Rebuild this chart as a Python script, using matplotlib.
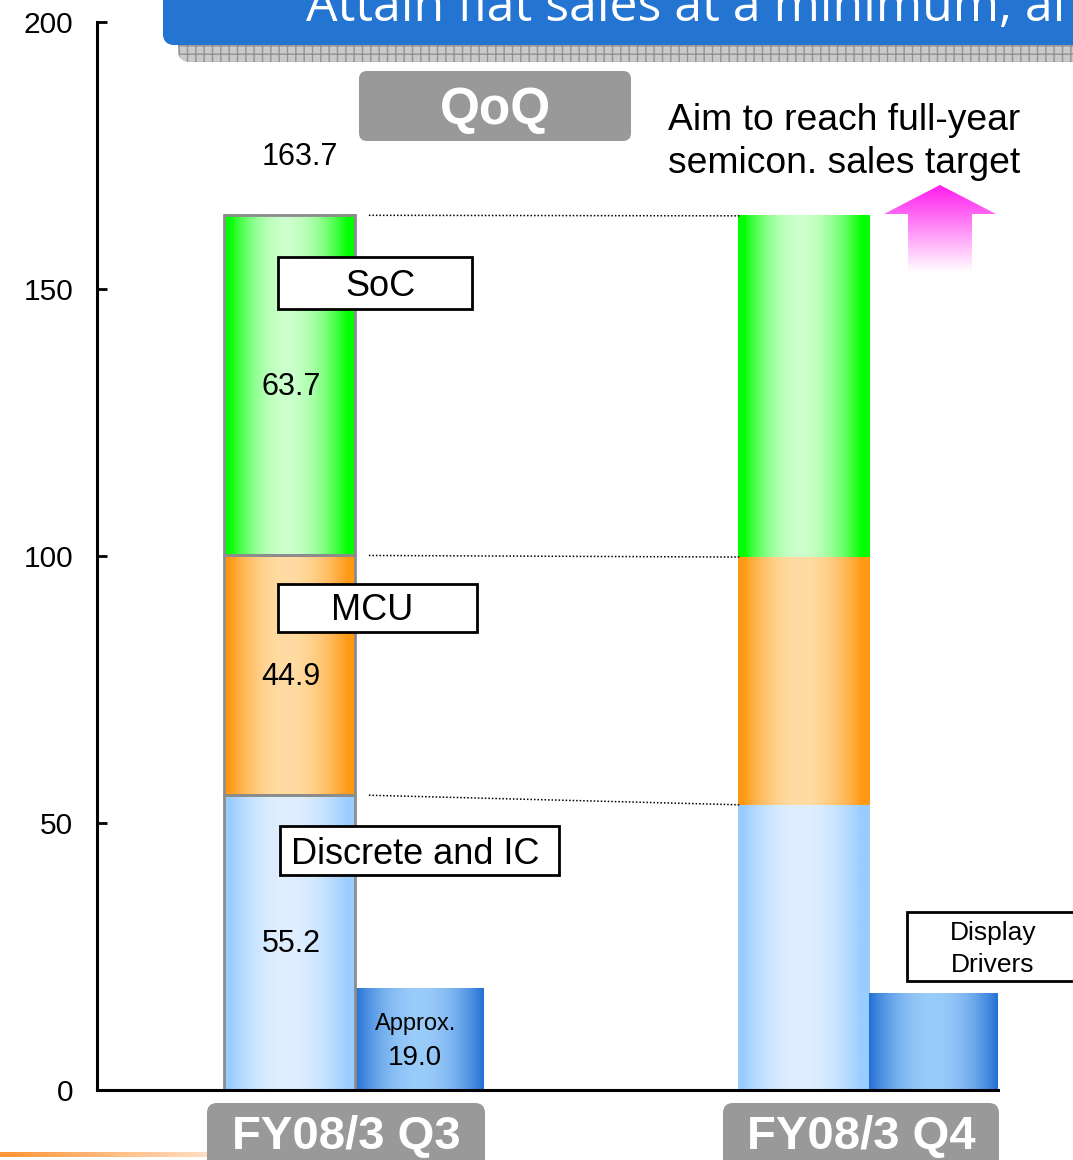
import numpy as np
import matplotlib
matplotlib.use("Agg")
import matplotlib.pyplot as plt
from matplotlib.patches import FancyBboxPatch, Rectangle, Polygon
from matplotlib.colors import to_rgb

plt.rcParams['font.family'] = ['Liberation Sans', 'DejaVu Sans']

# ---- data (billion yen) ----
periods = ["FY08/3 Q3", "FY08/3 Q4"]
segments = ["Discrete and IC", "MCU", "SoC"]
discrete_ic = [55.2, 53.4]
mcu = [44.9, 46.4]
soc = [63.7, 63.9]
display_drivers = [19.0, 18.0]
q3_total = 163.7
yticks = [0, 50, 100, 150, 200]

title_text = "Attain flat sales at a minimum, ai"
target_note = ["Aim to reach full-year", "semicon. sales target"]

W, H = 1073, 1160
fig = plt.figure(figsize=(W / 100, H / 100), dpi=100)
ax = fig.add_axes([97 / W, 70 / H, 901 / W, 1068 / H])

STACK_W = 0.255
DD_W = 0.25


def hgrad(edge, center, c=0.47, n=256, lo=0.04, hi=0.06):
    u = np.linspace(0, 1, n)
    half = np.where(u < c, c - lo, 1 - c - hi)
    w = np.clip(1 - (np.abs(u - c) / half) ** 2, 0, 1)
    e = np.array(to_rgb(edge))
    m = np.array(to_rgb(center))
    rgb = e[None, :] + (m - e)[None, :] * w[:, None]
    return rgb[None, :, :]


def fill_bar(axis, bar, img, z=2):
    x0, w = bar.get_x(), bar.get_width()
    y0, h = bar.get_y(), bar.get_height()
    xl, xr = sorted([x0, x0 + w])
    axis.imshow(img, extent=(xl, xr, y0, y0 + h), aspect='auto',
                interpolation='bilinear', zorder=z)


idx = np.arange(len(periods))
disc = np.array(discrete_ic)
mc = np.array(mcu)
sc = np.array(soc)
dd = np.array(display_drivers)

edges = ['#8c8c8c', 'none']
styles = {
    "Discrete and IC": ('#99ccff', '#e0efff'),
    "MCU": ('#ff9914', '#ffdca4'),
    "SoC": ('#00ff00', '#ccffcc'),
}
bottoms = {"Discrete and IC": np.zeros(2), "MCU": disc, "SoC": disc + mc}
values = {"Discrete and IC": disc, "MCU": mc, "SoC": sc}

for seg in segments:
    bars = ax.bar(idx, values[seg], width=-STACK_W, align='edge', bottom=bottoms[seg],
                  facecolor='none', edgecolor=edges, linewidth=2, zorder=3)
    for b in bars:
        fill_bar(ax, b, hgrad(*styles[seg]))

dd_bars = ax.bar(idx, dd, width=DD_W, align='edge', facecolor='none',
                 edgecolor='none', zorder=3)
for b in dd_bars:
    fill_bar(ax, b, hgrad('#0a5ccc', '#9accfa', c=0.5, lo=-0.05, hi=-0.05))

ax.set_xlim(-0.502, 1.251)
ax.set_ylim(0, 200)

for s in ('top', 'right'):
    ax.spines[s].set_visible(False)
for s in ('left', 'bottom'):
    ax.spines[s].set_linewidth(2.2)
    ax.spines[s].set_color('black')
    ax.spines[s].set_zorder(4)
ax.set_xticks([])
ax.set_yticks(yticks)
ax.tick_params(axis='y', direction='in', length=7, width=2, labelsize=21.5, pad=17)

# segment values for Q3
stack_c = -STACK_W / 2
for seg in segments:
    v = values[seg][0]
    ax.text(stack_c + 0.003, bottoms[seg][0] + v / 2 - 0.3, f"{v:.1f}", ha='center',
            va='center', fontsize=22, zorder=5)
ax.text(stack_c + 0.02, q3_total + 11.1, f"{q3_total:.1f}", ha='center', va='center',
        fontsize=22, zorder=5)

dd_c = DD_W / 2
ax.text(dd_c - 0.008, dd[0] / 2 + 2.8, "Approx.", ha='center', va='center',
        fontsize=17, zorder=5)
ax.text(dd_c - 0.008, dd[0] / 2 - 3.6, f"{dd[0]:.1f}", ha='center', va='center',
        fontsize=20, zorder=5)

# dotted connectors between the two stacks
q3_levels = [disc[0], disc[0] + mc[0], disc[0] + mc[0] + sc[0]]
q4_levels = [disc[1], disc[1] + mc[1], disc[1] + mc[1] + sc[1]]
for a, b in zip(q3_levels, q4_levels):
    ax.plot([0.027, 1 - STACK_W + 0.006], [a, b], color='black', lw=1.1,
            linestyle=(0, (1, 1.3)), zorder=4)

# ---- overlay in pixel coordinates for boxes and decorations ----
ov = fig.add_axes([0, 0, 1, 1], zorder=5)
ov.set_xlim(0, W)
ov.set_ylim(H, 0)
ov.axis('off')

# banner
shadow = FancyBboxPatch((178, 0), 1000, 62, boxstyle="round,pad=0,rounding_size=12",
                        fc='#cacaca', ec='#929292', lw=0, hatch='++')
ov.add_patch(shadow)
banner = FancyBboxPatch((163, -40), 1000, 85, boxstyle="round,pad=0,rounding_size=12",
                        fc='#2474d2', ec='none')
ov.add_patch(banner)
bg = np.linspace(0, 1, 64)[:, None, None]
bimg = np.array(to_rgb('#1862cc'))[None, None, :] * (1 - bg) + \
    np.array(to_rgb('#3384d8'))[None, None, :] * bg
im = ov.imshow(bimg, extent=(163, 1163, 45, -40), aspect='auto', interpolation='bilinear')
im.set_clip_path(banner)
ov.text(306, 21, title_text, color='white', fontsize=36, family=['Open Sans', 'DejaVu Sans'],
        ha='left', va='baseline')

# QoQ tag
ov.add_patch(FancyBboxPatch((359, 71), 272, 70, boxstyle="round,pad=0,rounding_size=8",
                            fc='#999999', ec='none'))
ov.text(495, 110, "QoQ", color='white', fontsize=37, fontweight='bold',
        ha='center', va='center')

# target note and arrow
ov.text(668, 130, target_note[0], fontsize=26.8, ha='left', va='baseline')
ov.text(668, 173, target_note[1], fontsize=26.8, ha='left', va='baseline')
arrow = Polygon([(940, 185), (996, 214), (972, 214), (972, 272), (908, 272),
                 (908, 214), (884, 214)], closed=True, fc='none', ec='none')
ov.add_patch(arrow)
t = np.linspace(0, 1, 128)[:, None, None]
aimg = np.array(to_rgb('#ff1cee'))[None, None, :] * (1 - t) + np.ones(3)[None, None, :] * t
im = ov.imshow(aimg, extent=(884, 996, 272, 185), aspect='auto', interpolation='bilinear')
im.set_clip_path(arrow)

# segment name boxes
name_boxes = [
    ("SoC", 278, 257, 472, 309, 381, 286, 26, 1.15),
    ("MCU", 278, 584, 477, 632, 372, 611, 26, 1.15),
    ("Discrete and IC", 280, 826, 559, 875, 415, 854, 26, 1.15),
    ("Display\nDrivers", 907, 912, 1085, 981, 993, 949, 19, 1.4),
]
for label, x0, y0, x1, y1, cx, cy, fs, ls in name_boxes:
    ov.add_patch(Rectangle((x0, y0), x1 - x0, y1 - y0, fc='white', ec='black', lw=2))
    ov.text(cx, cy, label, fontsize=fs, ha='center', va='center', linespacing=ls)

# orange accent line
og = np.linspace(0, 1, 128)[None, :, None]
oimg = np.array(to_rgb('#ff9535'))[None, None, :] * (1 - og) + \
    np.array(to_rgb('#ffe6d2'))[None, None, :] * og
ov.imshow(oimg, extent=(0, 230, 1157, 1152), aspect='auto', interpolation='bilinear')

# period tags
for label, x0, w, cx in zip(periods, [207, 723], [278, 276], [346, 861]):
    ov.add_patch(FancyBboxPatch((x0, 1103), w, 80, boxstyle="round,pad=0,rounding_size=10",
                                fc='#999999', ec='none'))
    ov.text(cx, 1137, label, color='white', fontsize=34, fontweight='bold',
            ha='center', va='center')

ov.set_xlim(0, W)
ov.set_ylim(H, 0)

fig.savefig("out.png", dpi=100)
